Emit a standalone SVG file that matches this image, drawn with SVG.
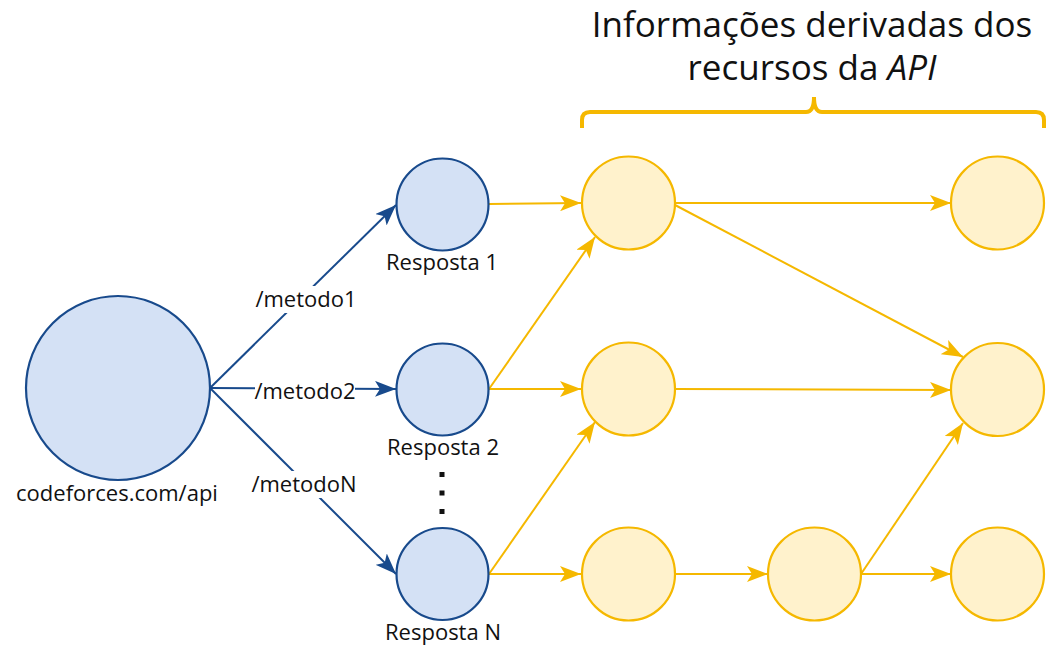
<svg xmlns="http://www.w3.org/2000/svg" width="1046" height="645" viewBox="0 0 1046 645">
  <style>
    .blue { fill: #d4e1f5; stroke: #184a8c; stroke-width: 2.2; }
    .yel { fill: #fff2cc; stroke: #f5b800; stroke-width: 2.2; }
    .eb { stroke: #184a8c; stroke-width: 2; fill: none; }
    .ey { stroke: #f5b800; stroke-width: 2; fill: none; }
    text { font-family: "Open Sans", "DejaVu Sans", sans-serif; fill: #111; }
    .lbl { font-size: 22px; text-anchor: middle; }
    .title { font-size: 35px; text-anchor: middle; }
  </style>
  <defs>
    <marker id="arrB" markerUnits="userSpaceOnUse" markerWidth="22" markerHeight="16" viewBox="0 0 22 16" refX="21" refY="8" orient="auto">
      <path d="M0,0 L21,8 L0,16 L5,8 Z" fill="#184a8c"/>
    </marker>
    <marker id="arrY" markerUnits="userSpaceOnUse" markerWidth="22" markerHeight="16" viewBox="0 0 22 16" refX="21" refY="8" orient="auto">
      <path d="M0,0 L21,8 L0,16 L5,8 Z" fill="#f5b800"/>
    </marker>
  </defs>

  <!-- heading and brace -->
  <g id="heading">
    <text class="title" x="812" y="37">Informações derivadas dos</text>
    <text class="title" x="812" y="80">recursos da <tspan font-style="italic">API</tspan></text>
    <path d="M582,128 L582,120 Q582,112 590,112 L806,112 Q814,112 814,97 Q814,112 822,112 L1036,112 Q1044,112 1044,120 L1044,128" fill="none" stroke="#f5b800" stroke-width="4"/>
  </g>

  <!-- connectors -->
  <g id="connectors">
    <line class="eb" x1="210" y1="388" x2="396" y2="205" marker-end="url(#arrB)"/>
    <line class="eb" x1="210" y1="388" x2="396" y2="389" marker-end="url(#arrB)"/>
    <line class="eb" x1="210" y1="388" x2="396" y2="574" marker-end="url(#arrB)"/>

    <line class="ey" x1="489" y1="204" x2="581" y2="203" marker-end="url(#arrY)"/>
    <line class="ey" x1="489" y1="389" x2="595" y2="237" marker-end="url(#arrY)"/>
    <line class="ey" x1="489" y1="389" x2="581" y2="389" marker-end="url(#arrY)"/>
    <line class="ey" x1="489" y1="574" x2="595" y2="422" marker-end="url(#arrY)"/>
    <line class="ey" x1="489" y1="574" x2="581" y2="574" marker-end="url(#arrY)"/>

    <line class="ey" x1="675" y1="203" x2="951" y2="203" marker-end="url(#arrY)"/>
    <line class="ey" x1="675" y1="205" x2="963" y2="357" marker-end="url(#arrY)"/>
    <line class="ey" x1="675" y1="389" x2="951" y2="390" marker-end="url(#arrY)"/>
    <line class="ey" x1="675" y1="574" x2="768" y2="574" marker-end="url(#arrY)"/>
    <line class="ey" x1="861" y1="574" x2="963" y2="423" marker-end="url(#arrY)"/>
    <line class="ey" x1="861" y1="574" x2="951" y2="574" marker-end="url(#arrY)"/>

    <!-- edge labels -->
    <rect x="256" y="286" width="100" height="27" fill="#fff"/>
    <text class="lbl" x="306" y="307">/metodo1</text>
    <rect x="255" y="378" width="100" height="26" fill="#fff"/>
    <text class="lbl" x="305" y="399">/metodo2</text>
    <rect x="252" y="471" width="104" height="27" fill="#fff"/>
    <text class="lbl" x="304" y="492">/metodoN</text>
  </g>

  <g id="api">
    <circle class="blue" cx="118" cy="388" r="92"/>
    <text class="lbl" x="117" y="501">codeforces.com/api</text>
  </g>
  <g id="resposta1">
    <circle class="blue" cx="442.5" cy="204.5" r="46"/>
    <text class="lbl" x="442" y="270">Resposta 1</text>
  </g>
  <g id="resposta2">
    <circle class="blue" cx="442.5" cy="389.5" r="46"/>
    <text class="lbl" x="443" y="455">Resposta 2</text>
  </g>
  <g id="ellipsis">
    <rect x="439.5" y="472" width="5" height="5" fill="#111"/>
    <rect x="439.5" y="490.5" width="5" height="5" fill="#111"/>
    <rect x="439.5" y="509" width="5" height="5" fill="#111"/>
  </g>
  <g id="respostaN">
    <circle class="blue" cx="442.5" cy="574" r="46"/>
    <text class="lbl" x="443" y="640">Resposta N</text>
  </g>

  <g id="info11"><circle class="yel" cx="628.5" cy="203" r="46.5"/></g>
  <g id="info21"><circle class="yel" cx="628.5" cy="389" r="46.5"/></g>
  <g id="info31"><circle class="yel" cx="628.5" cy="574" r="46.5"/></g>
  <g id="info33"><circle class="yel" cx="814.5" cy="574" r="46.5"/></g>
  <g id="info14"><circle class="yel" cx="997.5" cy="203" r="46.5"/></g>
  <g id="info24"><circle class="yel" cx="997.5" cy="389.5" r="46.5"/></g>
  <g id="info34"><circle class="yel" cx="997.5" cy="574" r="46.5"/></g>
</svg>
